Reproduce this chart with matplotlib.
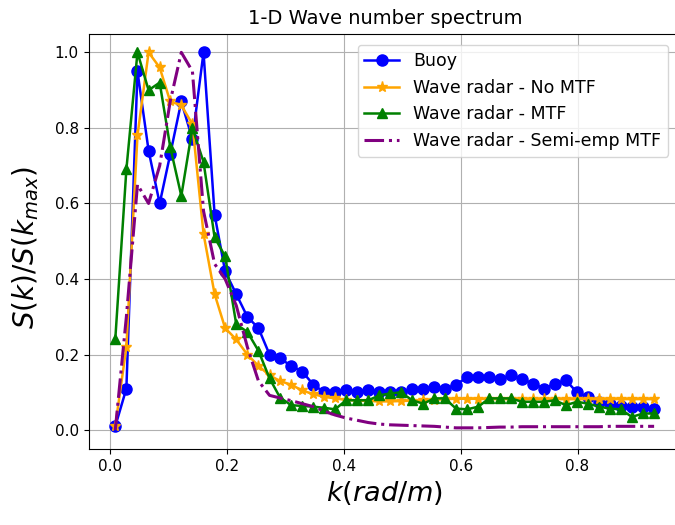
import matplotlib
matplotlib.use('Agg')
import matplotlib.pyplot as plt

'''wave number grid (rad/m)'''
k = [0.009, 0.028, 0.047, 0.066, 0.085, 0.103, 0.122, 0.141, 0.160, 0.179,
     0.197, 0.216, 0.235, 0.254, 0.273, 0.291, 0.310, 0.329, 0.348, 0.367,
     0.385, 0.404, 0.423, 0.442, 0.461, 0.479, 0.498, 0.517, 0.536, 0.555,
     0.573, 0.592, 0.611, 0.630, 0.649, 0.667, 0.686, 0.705, 0.724, 0.743,
     0.761, 0.780, 0.799, 0.818, 0.837, 0.855, 0.874, 0.893, 0.912, 0.931]

'''normalised spectra S(k)/S(kmax)'''
buoy = [0.01, 0.11, 0.95, 0.74, 0.60, 0.73, 0.87, 0.77, 1.0, 0.57,
        0.42, 0.36, 0.30, 0.27, 0.20, 0.19, 0.17, 0.155, 0.12, 0.10,
        0.10, 0.105, 0.10, 0.105, 0.10, 0.10, 0.10, 0.108, 0.11, 0.115,
        0.11, 0.12, 0.14, 0.14, 0.14, 0.135, 0.145, 0.135, 0.123, 0.11,
        0.123, 0.132, 0.10, 0.088, 0.075, 0.07, 0.065, 0.06, 0.06, 0.055]

no_mtf = [0.01, 0.22, 0.78, 1.0, 0.96, 0.87, 0.86, 0.81, 0.52, 0.36,
          0.27, 0.24, 0.20, 0.17, 0.145, 0.13, 0.12, 0.105, 0.095, 0.088,
          0.084, 0.08, 0.078, 0.077, 0.076, 0.076, 0.077, 0.078, 0.079, 0.08,
          0.082, 0.083, 0.083, 0.083, 0.082, 0.082, 0.082, 0.082, 0.082, 0.082,
          0.082, 0.082, 0.082, 0.082, 0.082, 0.082, 0.082, 0.082, 0.082, 0.082]

mtf = [0.24, 0.69, 1.0, 0.90, 0.92, 0.75, 0.62, 0.80, 0.71, 0.51,
       0.46, 0.28, 0.26, 0.21, 0.137, 0.086, 0.066, 0.064, 0.062, 0.059,
       0.055, 0.079, 0.079, 0.079, 0.092, 0.097, 0.10, 0.079, 0.07, 0.084,
       0.084, 0.057, 0.055, 0.062, 0.084, 0.084, 0.084, 0.075, 0.075, 0.075,
       0.079, 0.066, 0.075, 0.07, 0.062, 0.057, 0.055, 0.035, 0.044, 0.044]

semi_emp = [0.0, 0.30, 0.65, 0.60, 0.70, 0.87, 1.0, 0.95, 0.58, 0.44,
            0.40, 0.33, 0.22, 0.13, 0.092, 0.085, 0.078, 0.07, 0.062, 0.05,
            0.04, 0.032, 0.026, 0.02, 0.016, 0.014, 0.013, 0.012, 0.011, 0.01,
            0.008, 0.006, 0.006, 0.006, 0.007, 0.008, 0.008, 0.009, 0.009, 0.009,
            0.009, 0.009, 0.009, 0.009, 0.009, 0.01, 0.01, 0.01, 0.01, 0.01]

fig = plt.figure(figsize=(6.75, 5.25), dpi=100)
# axes runs a bit past the right edge (reference is cropped there)
ax = fig.add_axes([88.5/675, 76/525, (681-88.5)/675, (449-33.5)/525])

ax.plot(k, buoy, '-o', color='blue', lw=1.8, ms=8, label='Buoy')
ax.plot(k, no_mtf, '-*', color='orange', lw=1.8, ms=8, label='Wave radar - No MTF')
ax.plot(k, mtf, '-^', color='green', lw=1.8, ms=7.5, label='Wave radar - MTF')
ax.plot(k, semi_emp, '-.', color='purple', lw=2.2, label='Wave radar - Semi-emp MTF')

ax.set_xlim(-0.0368, 0.977)
ax.set_ylim(-0.05, 1.05)
ax.grid(True)
ax.set_title('1-D Wave number spectrum', fontsize=14, pad=7)
ax.set_xlabel('$k(rad/m)$', fontsize=19.5)
ax.set_ylabel('$S(k)/S(k_{max})$', fontsize=20)
ax.yaxis.set_label_coords(-0.08, 0.485)
ax.tick_params(labelsize=11)

ax.legend(loc='upper right', bbox_to_anchor=(668/675, 1-45/525),
          bbox_transform=fig.transFigure, borderaxespad=0, fontsize=12.5)

fig.savefig('out.png', dpi=100)
